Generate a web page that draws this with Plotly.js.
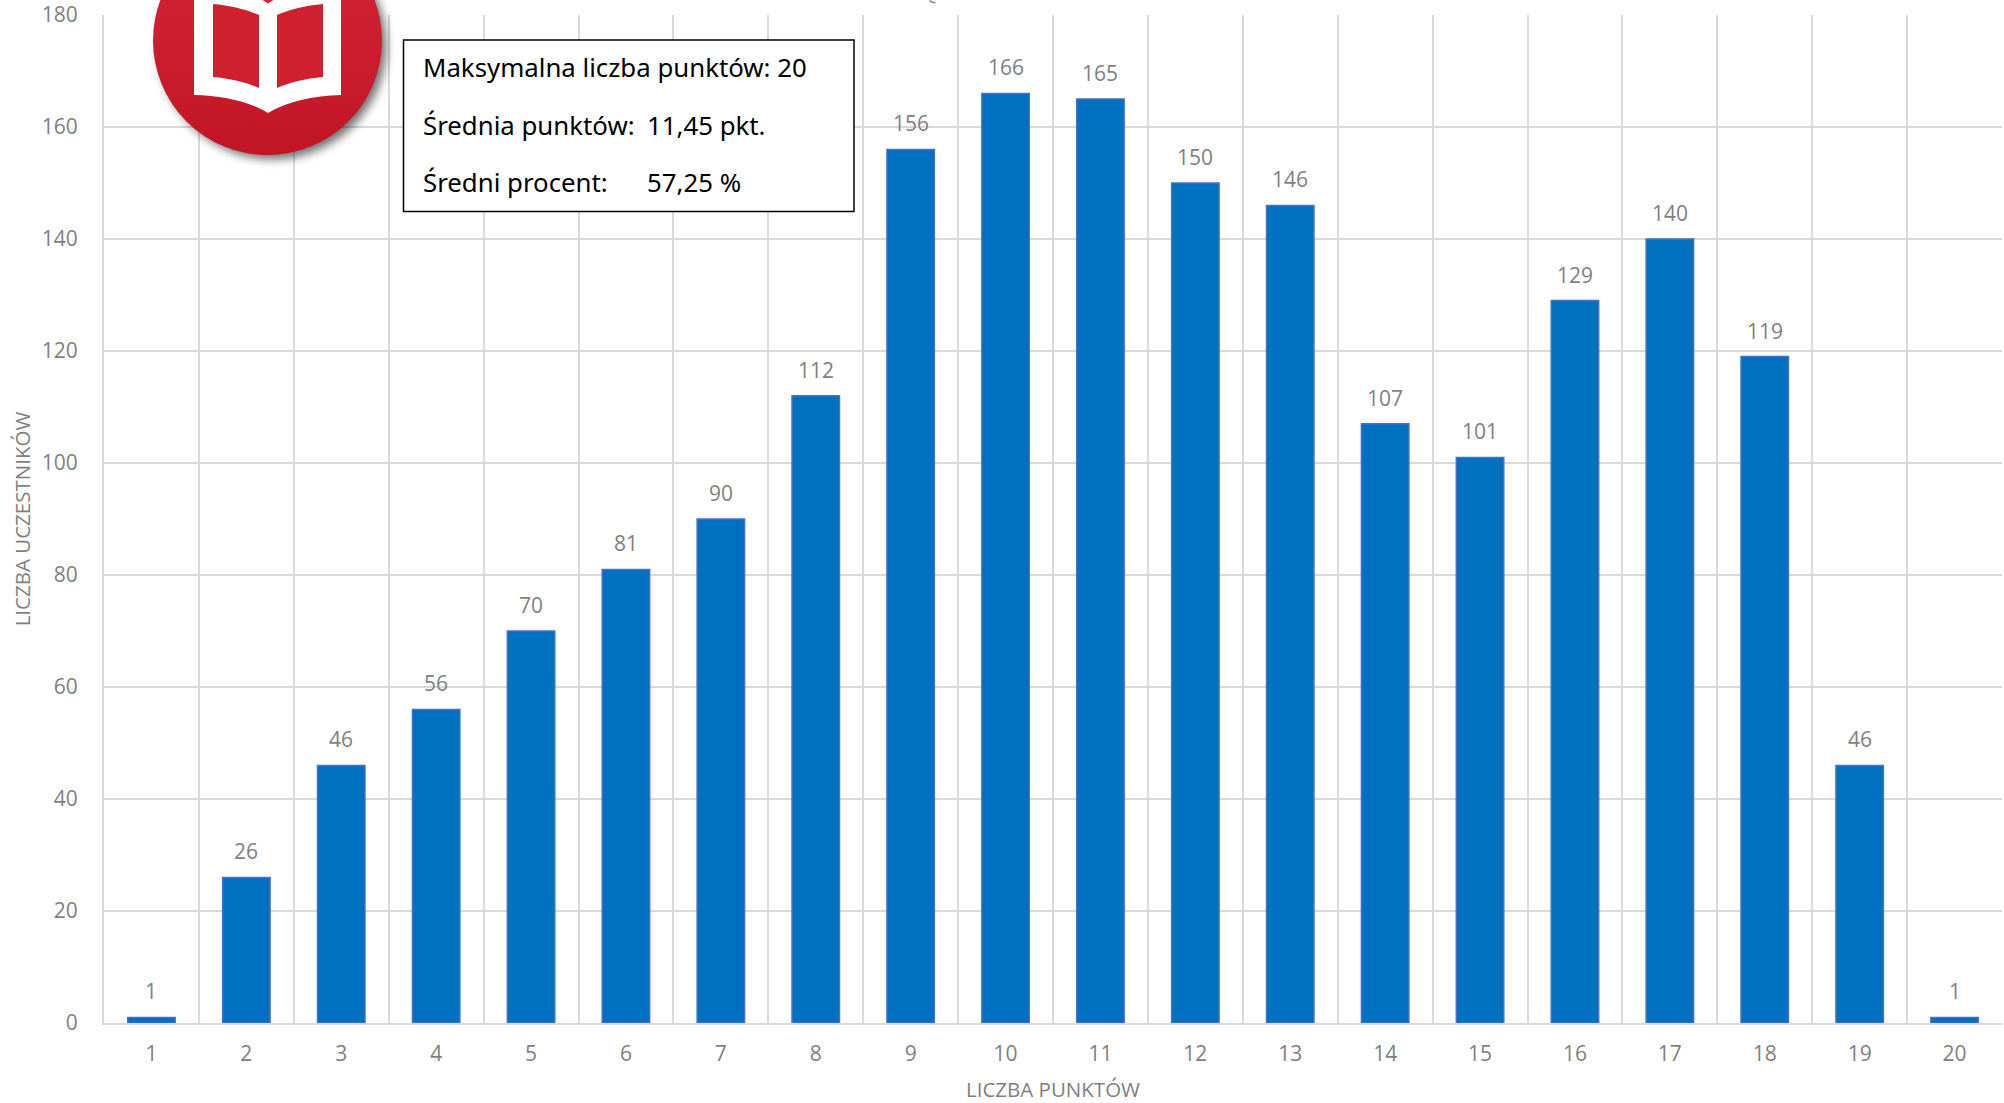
<!DOCTYPE html>
<html><head><meta charset="utf-8">
<script src="https://cdn.plot.ly/plotly-3.0.1.min.js"></script>
<style>html,body{margin:0;padding:0;background:#fff;overflow:hidden}#c{width:2004px;height:1103px}</style>
</head><body><div id="c"></div>
<script>
const categories=["1","2","3","4","5","6","7","8","9","10","11","12","13","14","15","16","17","18","19","20"];
const counts=[1,26,46,56,70,81,90,112,156,166,165,150,146,107,101,129,140,119,46,1];
const yTicks=[0,20,40,60,80,100,120,140,160,180];
const xTitle="LICZBA PUNKTÓW";
const yTitle="LICZBA UCZESTNIKÓW";
const infoLabels=["Maksymalna liczba punktów: 20","Średnia punktów:","Średni procent:"];
const infoValues=["","11,45 pkt.","57,25 %"];

const W=2004,H=1103,L=104,R=2002,T=15,B=1022.7;
const px=x=>(x-L)/(R-L), py=y=>(B-y)/(B-T);
const gray="#7f7f7f";
const font="'Open Sans', sans-serif";
const boxFont="'Noto Sans', sans-serif";
const infoY=[66.5,124.5,182];

const logo=`<svg xmlns="http://www.w3.org/2000/svg" width="300" height="300" viewBox="0 0 300 300">
<defs><linearGradient id="g" x1="0" y1="0" x2="0" y2="1"><stop offset="0" stop-color="#d62637"/><stop offset="1" stop-color="#c11525"/></linearGradient>
<filter id="b" x="-30%" y="-30%" width="160%" height="160%"><feGaussianBlur stdDeviation="5"/></filter></defs>
<circle cx="155" cy="155" r="114" fill="#000" opacity="0.55" filter="url(#b)"/>
<circle cx="150" cy="150" r="114.5" fill="url(#g)"/>
<path d="M76.5 90 L76.5 204.5 C105 205 132 211 150.5 222.5 C169 211 196 205 223.5 204.5 L223.5 90 Z" fill="#fff"/>
<path d="M145 109.5 L150.5 113 L156 109.5 Z" fill="#d62637"/>
<path d="M95.5 113.5 C113 115 129 119 141.5 124.5 L141.5 197.5 C129 192 113 188 95.5 186.5 Z" fill="#cf2030"/>
<path d="M205.5 113.5 C188 115 172 119 159.5 124.5 L159.5 197.5 C172 192 188 188 205.5 186.5 Z" fill="#cf2030"/>
</svg>`;

const annotations=[];
counts.forEach((v,i)=>annotations.push({x:i,y:v,xref:'x',yref:'y',text:String(v),showarrow:false,
  yanchor:'bottom',xanchor:'center',yshift:10,font:{family:font,size:21,color:gray}}));
infoLabels.forEach((t,i)=>annotations.push({x:px(423),y:py(infoY[i]),xref:'paper',yref:'paper',text:t,showarrow:false,
  xanchor:'left',yanchor:'middle',xshift:-2,font:{family:boxFont,size:25.8,color:'#000'}}));
infoValues.forEach((t,i)=>{if(t)annotations.push({x:px(647),y:py(infoY[i]),xref:'paper',yref:'paper',text:t,showarrow:false,
  xanchor:'left',yanchor:'middle',xshift:-2,font:{family:boxFont,size:25.8,color:'#000'}})});

const data=[{type:'bar',x:categories,y:counts,marker:{color:'#0070c0',line:{color:'#4472c4',width:1.5}},cliponaxis:false,hoverinfo:'x+y'}];
const layout={width:W,height:H,paper_bgcolor:'#fff',plot_bgcolor:'#fff',showlegend:false,bargap:0.5,
 margin:{l:L,r:W-R,t:T,b:H-B,pad:0},
 xaxis:{type:'category',range:[-0.5,19.5],autorange:false,categoryorder:'array',categoryarray:categories,tickson:'boundaries',showgrid:true,gridcolor:'#d9d9d9',gridwidth:2,
   showline:true,linecolor:'#d9d9d9',linewidth:2,mirror:false,ticks:'outside',ticklen:27,tickcolor:'rgba(0,0,0,0)',ticklabelstandoff:11,automargin:false,
   tickfont:{family:font,size:21,color:gray},title:{text:xTitle,standoff:19,font:{family:font,size:20.5,color:gray}},zeroline:false},
 yaxis:{range:[0,180],tickmode:'array',tickvals:yTicks,showgrid:true,gridcolor:'#d9d9d9',gridwidth:2,
   showline:true,linecolor:'#d9d9d9',linewidth:2,ticks:'outside',ticklen:20,tickcolor:'rgba(0,0,0,0)',automargin:false,zeroline:false,
   tickfont:{family:font,size:21,color:gray},title:{text:yTitle,standoff:6,font:{family:font,size:20.5,color:gray}}},
 images:[{source:'data:image/svg+xml;charset=utf-8,'+encodeURIComponent(logo),xref:'paper',yref:'paper',
   x:px(267.5-150),y:py(40.5-150),sizex:300/(R-L),sizey:300/(B-T),xanchor:'left',yanchor:'top',sizing:'stretch',layer:'above'}],
 shapes:[
  {type:'rect',xref:'paper',yref:'paper',x0:px(403.5),x1:px(854),y0:py(40),y1:py(211.5),fillcolor:'#fff',line:{color:'#000',width:1.5},layer:'above'},
  {type:'path',xref:'paper',yref:'paper',path:`M ${px(930)} ${py(0)} Q ${px(930.5)} ${py(3)} ${px(935.5)} ${py(2.5)}`,fillcolor:'rgba(0,0,0,0)',line:{color:'#8a8a8a',width:1.5},layer:'above'}
 ],
 annotations};
Plotly.newPlot('c',data,layout,{displayModeBar:false,staticPlot:true});
</script></body></html>
